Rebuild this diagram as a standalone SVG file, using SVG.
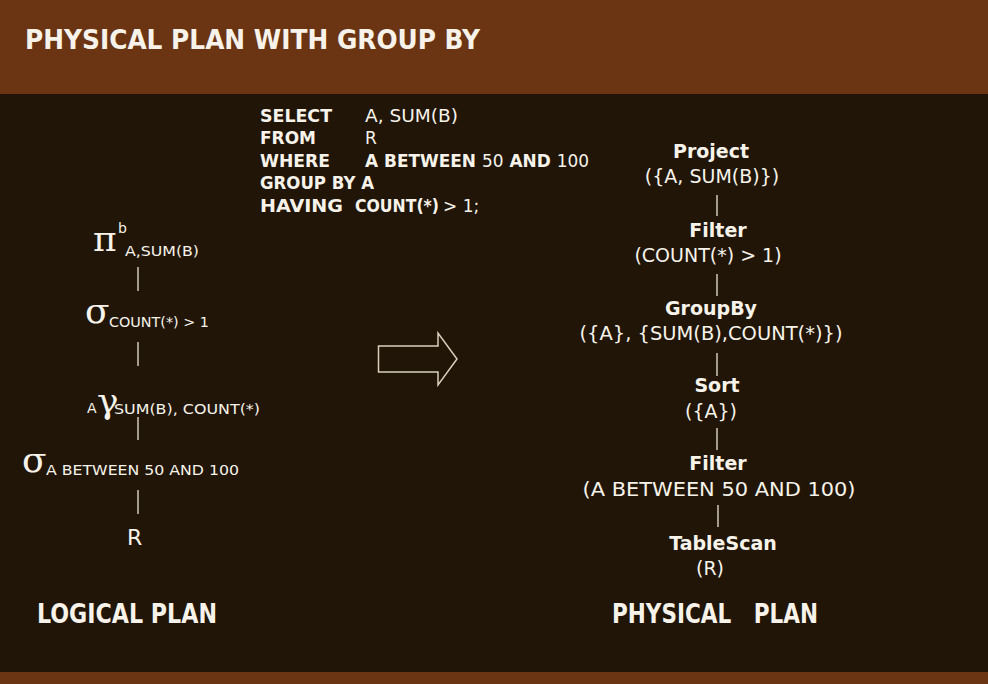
<svg xmlns="http://www.w3.org/2000/svg" width="988" height="684" viewBox="0 0 988 684">
<style>
text{fill:#f7f3ea;font-family:"DejaVu Sans","Liberation Sans",sans-serif}
.t{font-weight:bold;font-size:27px;font-family:"DejaVu Sans Condensed","DejaVu Sans",sans-serif}
.sql{font-weight:bold;font-size:17px}
.sqlr{font-size:17px}
.nb{font-weight:bold;font-size:19px;text-anchor:middle}
.nr{font-size:19px;text-anchor:middle}
.g{font-size:36px;font-family:"DejaVu Serif","Liberation Serif",serif}
.s{font-size:14px}
.c line{stroke:#cfc8b8;stroke-width:1.5}
</style>
<rect width="988" height="684" fill="#201507"/>
<rect width="988" height="94" fill="#6b3513"/>
<rect y="672" width="988" height="12" fill="#6b3513"/>
<text class="t" x="25" y="49" textLength="455" lengthAdjust="spacingAndGlyphs">PHYSICAL PLAN WITH GROUP BY</text>
<g id="sql">
<text class="sql" x="260" y="122" textLength="72" lengthAdjust="spacingAndGlyphs">SELECT</text>
<text class="sqlr" x="365" y="122" textLength="93" lengthAdjust="spacingAndGlyphs">A, SUM(B)</text>
<text class="sql" x="260" y="144" textLength="56" lengthAdjust="spacingAndGlyphs">FROM</text>
<text class="sqlr" x="365" y="144">R</text>
<text class="sql" x="260" y="167" textLength="70" lengthAdjust="spacingAndGlyphs">WHERE</text>
<text class="sql" x="365" y="167" textLength="224" lengthAdjust="spacingAndGlyphs">A BETWEEN <tspan font-weight="normal">50</tspan> AND <tspan font-weight="normal">100</tspan></text>
<text class="sql" x="260" y="189" textLength="114" lengthAdjust="spacingAndGlyphs">GROUP BY A</text>
<text class="sql" x="260" y="212" textLength="83" lengthAdjust="spacingAndGlyphs">HAVING</text>
<text class="sql" x="355" y="212" textLength="84" lengthAdjust="spacingAndGlyphs">COUNT(*)</text>
<text class="sqlr" x="443" y="212">&gt; 1;</text>
</g>
<g id="logical">
<g id="l-pi"><text class="g" x="93" y="251">π</text><text class="s" x="118" y="233">b</text><text class="s" x="125" y="256" textLength="74" lengthAdjust="spacingAndGlyphs">A,SUM(B)</text></g>
<g id="l-sigma1"><text class="g" x="85" y="323">σ</text><text class="s" x="109" y="327" textLength="100" lengthAdjust="spacingAndGlyphs">COUNT(*) &gt; 1</text></g>
<g id="l-gamma"><text class="s" x="87" y="413" font-size="12">A</text><text class="g" x="97" y="413" font-size="32">γ</text><text class="s" x="114" y="414" textLength="146" lengthAdjust="spacingAndGlyphs">SUM(B), COUNT(*)</text></g>
<g id="l-sigma2"><text class="g" x="22" y="472">σ</text><text class="s" x="46" y="475" textLength="193" lengthAdjust="spacingAndGlyphs">A BETWEEN 50 AND 100</text></g>
<g id="l-r"><text x="127" y="545" font-size="22">R</text></g>
</g>
<g id="physical">
<g id="p-project"><text class="nb" x="711" y="158">Project</text><text class="nr" x="712" y="183">({A, SUM(B)})</text></g>
<g id="p-filter1"><text class="nb" x="718" y="237">Filter</text><text class="nr" x="708" y="262">(COUNT(*) &gt; 1)</text></g>
<g id="p-groupby"><text class="nb" x="711" y="315">GroupBy</text><text class="nr" x="711" y="340" textLength="263" lengthAdjust="spacingAndGlyphs">({A}, {SUM(B),COUNT(*)})</text></g>
<g id="p-sort"><text class="nb" x="717" y="392">Sort</text><text class="nr" x="711" y="418">({A})</text></g>
<g id="p-filter2"><text class="nb" x="718" y="470">Filter</text><text class="nr" x="719" y="496" textLength="273" lengthAdjust="spacingAndGlyphs">(A BETWEEN 50 AND 100)</text></g>
<g id="p-tablescan"><text class="nb" x="723" y="550">TableScan</text><text class="nr" x="710" y="575">(R)</text></g>
</g>
<g id="connectors" class="c">
<line x1="138" y1="267" x2="138" y2="291"/>
<line x1="138" y1="342" x2="138" y2="366"/>
<line x1="138" y1="417" x2="138" y2="440"/>
<line x1="138" y1="490" x2="138" y2="514"/>
<line x1="717" y1="195" x2="717" y2="216"/>
<line x1="717" y1="274" x2="717" y2="296"/>
<line x1="717" y1="353" x2="717" y2="376"/>
<line x1="717" y1="428" x2="717" y2="450"/>
<line x1="718" y1="505" x2="718" y2="527"/>
</g>
<polygon id="arrow" points="378.5,346 438,346 438,333 457,359 438,385 438,372 378.5,372" fill="none" stroke="#d8d0bc" stroke-width="1.5"/>
<text class="t" x="37" y="623" font-size="24" textLength="180" lengthAdjust="spacingAndGlyphs">LOGICAL PLAN</text>
<text class="t" x="612" y="623" font-size="24" textLength="206" lengthAdjust="spacingAndGlyphs" style="white-space:pre">PHYSICAL   PLAN</text>
</svg>
